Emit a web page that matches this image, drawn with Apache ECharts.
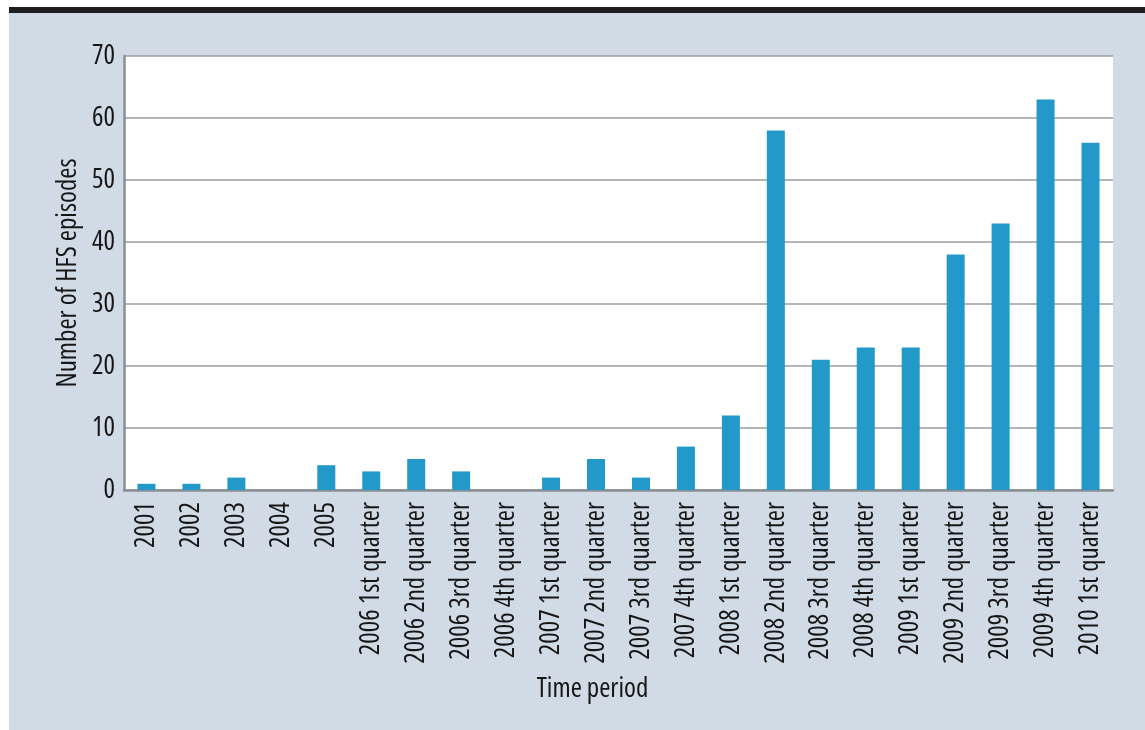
<!DOCTYPE html>
<html>
<head>
<meta charset="utf-8">
<script src="https://cdn.jsdelivr.net/npm/echarts@6/dist/echarts.min.js"></script>
<style>
html,body{margin:0;padding:0;background:#fff;}
#c{width:1145px;height:730px;}
</style>
</head>
<body>
<div id="c"></div>
<script>
const categories = ["2001","2002","2003","2004","2005","2006 1st quarter","2006 2nd quarter","2006 3rd quarter","2006 4th quarter","2007 1st quarter","2007 2nd quarter","2007 3rd quarter","2007 4th quarter","2008 1st quarter","2008 2nd quarter","2008 3rd quarter","2008 4th quarter","2009 1st quarter","2009 2nd quarter","2009 3rd quarter","2009 4th quarter","2010 1st quarter"];
const episodes = [1,1,2,0,4,3,5,3,0,2,5,2,7,12,58,21,23,23,38,43,63,56];
const yTicks = [0,10,20,30,40,50,60,70];

const FONT = '"Open Sans",sans-serif';
const TXT = {fontFamily:FONT, fontWeight:'500 condensed', fontSize:27, color:'#161616'};
const chart = echarts.init(document.getElementById('c'), null, {renderer:'canvas'});
chart.setOption({
  backgroundColor: '#ffffff',
  animation: false,
  graphic: [
    {type:'rect', z:-10, shape:{x:9,y:13,width:1136,height:717}, style:{fill:'#d0dbe5'}},
    {type:'rect', z:-10, shape:{x:9,y:7,width:1136,height:6}, style:{fill:'#1e1e1e'}}
  ],
  grid: {left:124, right:32, top:56, bottom:240, show:true, backgroundColor:'#ffffff', borderWidth:0, containLabel:false, outerBoundsMode:'none'},
  xAxis: {
    type:'category',
    data: categories,
    name:'Time period',
    nameLocation:'middle',
    nameGap:186,
    nameMoveOverlap:false,
    nameTextStyle:Object.assign({padding:[0,52,0,0]}, TXT),
    axisLine:{show:true, lineStyle:{color:'#8a8f94', width:2.5}},
    axisTick:{show:false},
    axisLabel:Object.assign({rotate:90, interval:0, margin:12}, TXT)
  },
  yAxis: {
    type:'value',
    min: yTicks[0],
    max: yTicks[yTicks.length-1],
    interval: 10,
    name:'Number of HFS episodes',
    nameLocation:'middle',
    nameGap:42,
    nameMoveOverlap:false,
    nameTextStyle:Object.assign({}, TXT),
    axisLine:{show:true, lineStyle:{color:'#8a8f94', width:2.5}},
    axisTick:{show:false},
    axisLabel:Object.assign({margin:9}, TXT),
    splitLine:{show:true, lineStyle:{color:'#9a9ea2', width:1.5}}
  },
  series: [{
    type:'bar',
    data: episodes,
    barWidth:18,
    itemStyle:{color:'#2299c8'}
  }]
});
</script>
</body>
</html>
